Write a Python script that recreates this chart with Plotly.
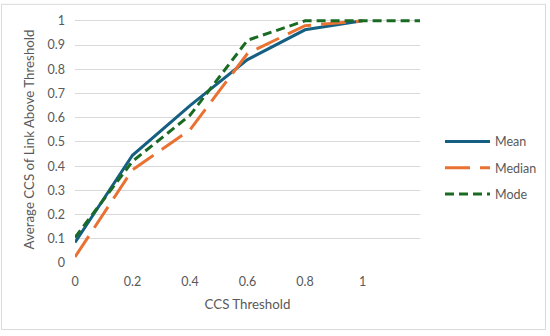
import plotly.graph_objects as go

thresholds = [0, 0.2, 0.4, 0.6, 0.8, 1.0]
mode_thresholds = [0, 0.2, 0.4, 0.6, 0.8, 1.0, 1.2]
mean_vals = [0.085, 0.445, 0.65, 0.84, 0.963, 1.0]
median_vals = [0.025, 0.385, 0.55, 0.865, 0.98, 1.0]
mode_vals = [0.105, 0.42, 0.61, 0.92, 1.0, 1.0, 1.0]
x_ticks = [0, 0.2, 0.4, 0.6, 0.8, 1]
x_ticktext = ["0", "0.2", "0.4", "0.6", "0.8", "1"]
y_ticks = [0, 0.1, 0.2, 0.3, 0.4, 0.5, 0.6, 0.7, 0.8, 0.9, 1]
y_ticktext = ["0", "0.1", "0.2", "0.3", "0.4", "0.5", "0.6", "0.7", "0.8", "0.9", "1"]

FONT = "Lato"
GRAY = "#595959"

fig = go.Figure()
fig.add_trace(go.Scatter(x=thresholds, y=mean_vals, mode="lines", name="Mean",
                         legendgroup="a",
                         line=dict(color="#156082", width=3)))
fig.add_trace(go.Scatter(x=thresholds, y=median_vals, mode="lines", name="Median",
                         legendgroup="b",
                         line=dict(color="#E97132", width=3, dash="25px,10px")))
fig.add_trace(go.Scatter(x=mode_thresholds, y=mode_vals, mode="lines", name="Mode",
                         legendgroup="c",
                         line=dict(color="#196B24", width=3, dash="9px,5px")))

W, H = 550, 336
L, R = 75, 420          # plot area x pixels
Y0, Y1 = 263, 21        # pixels of y=0 and y=1
ymax = 1.02
top = Y0 - (Y0 - Y1) * ymax
mt = top
mb = H - Y0

def px_to_paper_x(px):
    return (px - L) / (R - L)

def px_to_paper_y(py):
    return (Y0 - py) / (Y0 - top)

fig.update_layout(
    width=W, height=H,
    margin=dict(l=L, r=W - R, t=mt, b=mb, pad=0, autoexpand=False),
    paper_bgcolor="white", plot_bgcolor="white",
    font=dict(family=FONT, color=GRAY, size=12),
    showlegend=True,
    legend=dict(x=px_to_paper_x(440), y=px_to_paper_y(127), xanchor="left", yanchor="top",
                font=dict(size=12.5, color=GRAY, family=FONT),
                traceorder="grouped", tracegroupgap=7, itemwidth=45,
                bgcolor="rgba(0,0,0,0)", borderwidth=0),
    xaxis=dict(range=[0, 1.2], tickmode="array", tickvals=x_ticks, ticktext=x_ticktext,
               showgrid=False, zeroline=False, showline=False, ticks="",
               ticklabelstandoff=9,
               tickfont=dict(size=12.5, color=GRAY, family=FONT),
               title=dict(text="CCS Threshold", font=dict(size=13.3, color=GRAY, family=FONT),
                          standoff=12)),
    yaxis=dict(range=[0, ymax], tickmode="array", tickvals=y_ticks, ticktext=y_ticktext,
               showgrid=True, gridcolor="#D9D9D9", gridwidth=1,
               zeroline=False, showline=False, ticks="",
               ticklabelstandoff=9,
               tickfont=dict(size=12.5, color=GRAY, family=FONT),
               title=dict(text="Average CCS of Link Above Threshold",
                          font=dict(size=13.3, color=GRAY, family=FONT), standoff=9)),
    shapes=[dict(type="rect", xref="paper", yref="paper",
                 x0=px_to_paper_x(1.5), x1=px_to_paper_x(545.5),
                 y0=px_to_paper_y(329.5), y1=px_to_paper_y(4.5),
                 line=dict(color="#D9D9D9", width=1), fillcolor="rgba(0,0,0,0)",
                 layer="below")],
)

fig.write_html("out.html", config={"displayModeBar": False},
               post_script="document.body.style.margin='0';document.body.style.padding='0';")
